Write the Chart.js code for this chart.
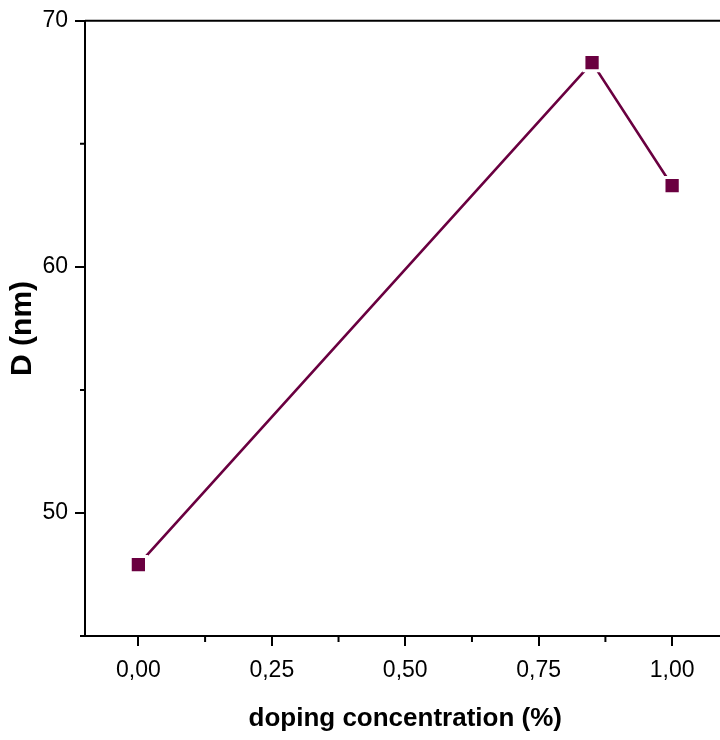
<!DOCTYPE html>
<html>
<head>
<meta charset="utf-8">
<script src="https://cdn.jsdelivr.net/npm/chart.js@4/dist/chart.umd.min.js"></script>
<style>
  html, body { margin: 0; padding: 0; background: #fff; overflow: hidden; width: 720px; height: 740px; }
  canvas { display: block; }
</style>
</head>
<body>
<canvas id="dChart" width="740" height="740"></canvas>
<script>
// data
const doping = [0, 0.85, 1.0];
const sizeD = [47.9, 68.3, 63.3];

// axis ticks
const xMajor = [0, 0.25, 0.5, 0.75, 1.0];
const xMinor = [0.125, 0.375, 0.625, 0.875];
const yMajor = [50, 60, 70];
const yMinor = [45, 55, 65];

const lineColor = "#6a0040";
const fontFam = "'Liberation Sans', Arial, sans-serif";

// short minor ticks + top/right frame
const frameAndMinor = {
    id: "frameAndMinor",
    afterDraw(chart) {
        const { ctx, chartArea: a, scales: { x, y } } = chart;
        ctx.save();
        ctx.strokeStyle = "#000";
        ctx.lineWidth = 2;
        ctx.beginPath();
        xMinor.forEach(v => {
            const px = x.getPixelForValue(v);
            ctx.moveTo(px, a.bottom);
            ctx.lineTo(px, a.bottom + 6);
        });
        yMinor.forEach(v => {
            const py = y.getPixelForValue(v);
            ctx.moveTo(a.left, py);
            ctx.lineTo(a.left - 5, py);
        });
        ctx.moveTo(a.left, a.top);
        ctx.lineTo(a.right, a.top);
        ctx.lineTo(a.right, a.bottom);
        ctx.stroke();
        ctx.restore();
    }
};

const ctx = document.getElementById("dChart").getContext("2d");

new Chart(ctx, {
    type: "scatter",
    data: {
        datasets: [{
            label: "D",
            data: doping.map((v, i) => ({ x: v, y: sizeD[i] })),
            showLine: true,
            borderColor: lineColor,
            borderWidth: 2.6,
            pointStyle: "rect",
            pointRadius: 11.5,
            pointBackgroundColor: lineColor,
            pointBorderColor: "#fff",
            pointBorderWidth: 3
        }]
    },
    options: {
        responsive: false,
        animation: false,
        layout: { padding: { top: 18, right: 11, left: 0, bottom: 0 } },
        plugins: {
            legend: { display: false },
            tooltip: { enabled: false }
        },
        scales: {
            x: {
                type: "linear",
                min: -0.1,
                max: 1.1,
                afterBuildTicks: s => { s.ticks = xMajor.map(v => ({ value: v })); },
                afterFit: s => { s.height = 104; },
                border: { color: "#000", width: 2 },
                grid: { drawOnChartArea: false, drawTicks: true, tickLength: 10, color: "#000", lineWidth: 2 },
                ticks: {
                    color: "#000",
                    padding: 11,
                    maxRotation: 0,
                    font: { family: fontFam, size: 23 },
                    callback: v => v.toFixed(2).replace(".", ",")
                },
                title: {
                    display: true,
                    text: "doping concentration (%)",
                    color: "#000",
                    padding: { top: 0, bottom: 6 },
                    font: { family: fontFam, size: 26, weight: "bold" }
                }
            },
            y: {
                type: "linear",
                min: 45,
                max: 70,
                afterBuildTicks: s => { s.ticks = yMajor.map(v => ({ value: v })); },
                afterFit: s => { s.width = 85; },
                border: { color: "#000", width: 2 },
                grid: { drawOnChartArea: false, drawTicks: true, tickLength: 10, color: "#000", lineWidth: 2 },
                ticks: {
                    color: "#000",
                    padding: 7,
                    font: { family: fontFam, size: 23 },
                    callback: v => String(v)
                },
                title: {
                    display: true,
                    text: "D (nm)",
                    color: "#000",
                    padding: { top: 5, bottom: 0 },
                    font: { family: fontFam, size: 30, weight: "bold" }
                }
            }
        }
    },
    plugins: [frameAndMinor]
});
</script>
</body>
</html>
